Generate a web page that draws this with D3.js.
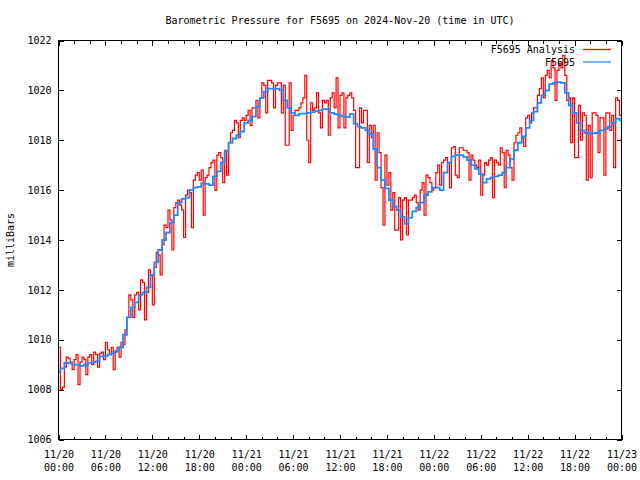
<!DOCTYPE html>
<html>
<head>
<meta charset="utf-8">
<script src="https://cdn.jsdelivr.net/npm/d3@7"></script>
<style>
  html, body { margin: 0; padding: 0; background: #fff; }
  svg { display: block; }
  text { font-family: "DejaVu Sans Mono", "Liberation Mono", monospace; font-size: 10px; fill: #000; }
</style>
</head>
<body>
<svg id="chart" width="640" height="480"></svg>
<script>
// ---------------- data ----------------
const chartTitle = "Barometric Pressure for F5695 on 2024-Nov-20 (time in UTC)";
const yLabel = "milliBars";
const seriesNames = ["F5695 Analysis", "F5695"];
const seriesColors = ["#ff0000", "#1e88ff"];
const startTime = Date.UTC(2024, 10, 20, 0, 0);
const endTime = Date.UTC(2024, 10, 23, 0, 0);
const yTicks = [1006, 1008, 1010, 1012, 1014, 1016, 1018, 1020, 1022];

// Analysis series, one value every 15 minutes from 11/20 00:00 (one row per hour)
const analysisStepMin = 15;
const analysisValues = [
  1009.7,1008.0,1008.1,1008.9,  1009.3,1009.25,1009.1,1008.8,
  1009.2,1009.4,1008.2,1009.1,  1009.3,1009.2,1008.6,1009.3,
  1009.4,1009.0,1009.5,1009.4,  1008.9,1009.45,1009.5,1009.2,
  1009.9,1009.6,1009.4,1009.7,  1008.8,1009.5,1009.7,1009.3,
  1009.9,1009.8,1010.4,1010.9,  1011.8,1011.6,1010.9,1011.8,
  1011.9,1011.2,1012.4,1012.3,  1010.8,1011.9,1012.8,1012.6,
  1011.4,1012.9,1013.5,1013.4,  1012.6,1013.8,1014.6,1014.5,
  1015.2,1014.8,1013.6,1015.3,  1015.5,1015.6,1015.4,1015.2,
  1014.1,1015.8,1016.0,1015.9,  1014.5,1016.4,1016.6,1016.7,
  1016.4,1016.8,1015.0,1016.5,  1016.6,1016.9,1017.1,1017.2,
  1016.0,1017.4,1017.5,1017.3,  1016.3,1017.6,1016.6,1017.9,
  1018.3,1018.4,1018.8,1018.7,  1018.1,1018.8,1018.9,1018.8,
  1019.0,1019.2,1018.6,1019.3,  1019.3,1019.6,1018.9,1019.7,
  1020.3,1020.2,1019.1,1020.4,  1020.4,1020.3,1019.3,1020.2,
  1020.3,1020.3,1019.1,1020.2,  1017.8,1017.8,1020.3,1018.4,
  1019.0,1019.2,1019.2,1019.3,  1019.5,1019.7,1020.6,1018.0,
  1017.1,1019.5,1019.2,1019.3,  1019.9,1019.1,1018.5,1019.6,
  1019.5,1019.6,1018.2,1019.7,  1019.9,1019.3,1020.5,1018.5,
  1019.8,1019.9,1018.5,1019.7,  1019.8,1019.9,1019.7,1019.2,
  1016.9,1016.9,1019.3,1018.7,  1019.2,1019.2,1017.1,1018.6,
  1018.1,1018.6,1016.4,1018.3,  1017.5,1016.1,1014.6,1017.4,
  1016.2,1016.7,1015.2,1015.9,  1014.4,1014.4,1015.7,1014.0,
  1015.6,1015.7,1014.2,1015.6,  1015.6,1015.7,1015.8,1015.5,
  1015.2,1016.0,1016.3,1015.0,  1016.6,1016.5,1016.3,1016.0,
  1016.1,1016.7,1017.0,1016.2,  1017.1,1017.2,1017.3,1017.1,
  1016.1,1017.7,1017.75,1016.6, 1016.5,1017.7,1017.7,1017.6,
  1017.6,1017.5,1016.4,1017.4,  1017.2,1017.0,1016.9,1017.2,
  1015.8,1016.6,1017.1,1017.0,  1017.2,1017.3,1015.7,1017.2,
  1017.1,1017.0,1017.7,1017.5,  1016.1,1017.6,1017.4,1016.9,
  1016.4,1017.9,1018.2,1018.3,  1018.5,1018.1,1017.75,1018.9,
  1019.0,1018.7,1019.1,1019.3,  1019.3,1019.8,1020.07,1020.5,
  1019.7,1020.6,1020.8,1020.5,  1021.2,1020.9,1019.6,1020.8,
  1021.07,1020.9,1021.4,1020.6, 1019.6,1019.7,1017.9,1019.7,
  1017.3,1017.3,1019.4,1018.0,  1019.1,1019.0,1016.4,1018.6,
  1016.5,1019.1,1019.1,1019.0,  1017.5,1018.9,1018.9,1016.6,
  1019.1,1019.1,1018.4,1019.0,  1016.9,1019.7,1019.6,1019.0,
  1017.3
];

// Station observations, one value every 30 minutes from 11/20 00:00
const stationStepMin = 30;
const stationValues = [
  1008.7,1008.85,1009.07,1009.05,1009.0,1009.0,1008.95,1009.0,1009.07,1009.1,
  1009.13,1009.33,1009.35,1009.4,1009.45,1009.55,1009.7,1010.2,1010.9,1011.3,
  1011.5,1011.8,1011.9,1012.1,1012.6,1013.1,1013.6,1014.0,1014.3,1014.7,
  1015.0,1015.5,1015.65,1015.7,1016.0,1016.1,1016.13,1016.27,1016.25,1016.2,
  1016.55,1016.75,1017.1,1017.55,1017.9,1018.07,1018.2,1018.35,1018.7,1018.8,
  1018.95,1019.35,1019.7,1019.95,1020.07,1020.07,1020.07,1020.0,1019.6,1019.3,
  1019.1,1019.0,1019.07,1019.07,1019.1,1019.13,1019.17,1019.2,1019.25,1019.25,
  1019.1,1019.05,1019.0,1018.95,1018.93,1019.05,1018.67,1018.55,1018.5,1018.4,
  1018.25,1017.65,1016.9,1016.4,1016.07,1015.6,1015.35,1015.2,1014.93,1014.65,
  1014.9,1015.15,1015.3,1015.5,1015.8,1015.93,1016.1,1016.1,1016.0,1016.7,
  1017.1,1017.35,1017.4,1017.4,1017.33,1017.2,1017.0,1016.85,1016.65,1016.3,
  1016.45,1016.5,1016.55,1016.6,1016.7,1016.9,1017.25,1017.6,1017.9,1018.15,
  1018.5,1018.8,1019.15,1019.5,1019.8,1020.0,1020.25,1020.3,1020.33,1020.3,
  1019.9,1019.4,1019.1,1018.7,1018.4,1018.3,1018.27,1018.28,1018.3,1018.4,
  1018.45,1018.55,1018.7,1018.87,1018.8
];

// ---------------- chart ----------------
const svg = d3.select("#chart");
const margin = { left: 58.5, right: 18.5, top: 40.5, bottom: 40.5 };
const W = 640, H = 480;
const x0 = margin.left, x1 = W - margin.right, y0 = margin.top, y1 = H - margin.bottom;

const x = d3.scaleUtc().domain([new Date(startTime), new Date(endTime)]).range([x0, x1]);
const y = d3.scaleLinear().domain([1006, 1022]).range([y1, y0]);

const toPoints = (vals, stepMin) => vals.map((v, i) => ({ t: new Date(startTime + i * stepMin * 60000), v }));
const analysis = toPoints(analysisValues, analysisStepMin);
const station = toPoints(stationValues, stationStepMin);

// title
svg.append("text").attr("x", 340).attr("y", 24).attr("text-anchor", "middle").text(chartTitle);

// y label
svg.append("text").attr("transform", "translate(14,240) rotate(-90)")
  .attr("text-anchor", "middle").text(yLabel);

const majorX = d3.utcHour.every(6).range(new Date(startTime), new Date(endTime + 1));
const minorX = d3.utcHour.every(2).range(new Date(startTime), new Date(endTime + 1))
  .filter(d => d.getUTCHours() % 6 !== 0);

// bottom axis with two-line labels
const bottomAxis = d3.axisBottom(x).tickValues(majorX).tickSize(-5).tickFormat(() => "");
const gb = svg.append("g").attr("transform", `translate(0,${y1})`).call(bottomAxis);
gb.select(".domain").remove();
gb.selectAll("line").attr("stroke", "#000").attr("shape-rendering", "crispEdges");
gb.selectAll(".tick text").remove();
gb.selectAll(".tick").each(function(d) {
  const t = d3.select(this).append("text").attr("text-anchor", "middle").attr("y", 18);
  t.append("tspan").attr("x", 0).text(d3.utcFormat("%m/%d")(d));
  t.append("tspan").attr("x", 0).attr("dy", 13).text(d3.utcFormat("%H:%M")(d));
});
const gbm = svg.append("g").attr("transform", `translate(0,${y1})`)
  .call(d3.axisBottom(x).tickValues(minorX).tickSize(-3).tickFormat(() => ""));
gbm.select(".domain").remove();
gbm.selectAll("line").attr("shape-rendering", "crispEdges");
// top mirror ticks
const gt = svg.append("g").attr("transform", `translate(0,${y0})`)
  .call(d3.axisTop(x).tickValues(majorX).tickSize(-5).tickFormat(() => ""));
gt.select(".domain").remove();
gt.selectAll("line").attr("shape-rendering", "crispEdges");
const gtm = svg.append("g").attr("transform", `translate(0,${y0})`)
  .call(d3.axisTop(x).tickValues(minorX).tickSize(-3).tickFormat(() => ""));
gtm.select(".domain").remove();
gtm.selectAll("line").attr("shape-rendering", "crispEdges");

// left axis
const gl = svg.append("g").attr("transform", `translate(${x0},0)`)
  .call(d3.axisLeft(y).tickValues(yTicks).tickSize(-5).tickPadding(7).tickFormat(d3.format("d")));
gl.select(".domain").remove();
gl.selectAll("line").attr("shape-rendering", "crispEdges");
// right mirror
const gr = svg.append("g").attr("transform", `translate(${x1},0)`)
  .call(d3.axisRight(y).tickValues(yTicks).tickSize(-5).tickFormat(() => ""));
gr.select(".domain").remove();
gr.selectAll("line").attr("shape-rendering", "crispEdges");

svg.selectAll(".tick text").attr("font-family", null).attr("font-size", null).attr("fill", "#000");
svg.selectAll("g").attr("font-family", null).attr("font-size", null);

// clip
svg.append("clipPath").attr("id", "plotclip").append("rect")
  .attr("x", x0).attr("y", y0).attr("width", x1 - x0).attr("height", y1 - y0);
const plot = svg.append("g").attr("clip-path", "url(#plotclip)");

const lineRed = d3.line().x(d => x(d.t)).y(d => y(d.v)).curve(d3.curveStepAfter);
const lineBlue = d3.line().x(d => x(d.t)).y(d => y(d.v)).curve(d3.curveStep);

plot.append("path").datum(analysis).attr("d", lineRed)
  .attr("fill", "none").attr("stroke", seriesColors[0]).attr("stroke-width", 1.2);
plot.append("path").datum(station).attr("d", lineBlue)
  .attr("fill", "none").attr("stroke", seriesColors[1]).attr("stroke-width", 1.8);

// frame
svg.append("rect").attr("x", x0).attr("y", y0).attr("width", x1 - x0).attr("height", y1 - y0)
  .attr("fill", "none").attr("stroke", "#000").attr("stroke-width", 1).attr("shape-rendering", "crispEdges");

// legend
const leg = svg.append("g");
seriesNames.forEach((name, i) => {
  const ly = 49.5 + i * 12.5;
  leg.append("text").attr("x", 575).attr("y", ly + 3.5).attr("text-anchor", "end").text(name);
  leg.append("line").attr("x1", 583).attr("x2", 611).attr("y1", ly).attr("y2", ly)
    .attr("stroke", seriesColors[i]).attr("stroke-width", 1.3);
});
</script>
</body>
</html>
